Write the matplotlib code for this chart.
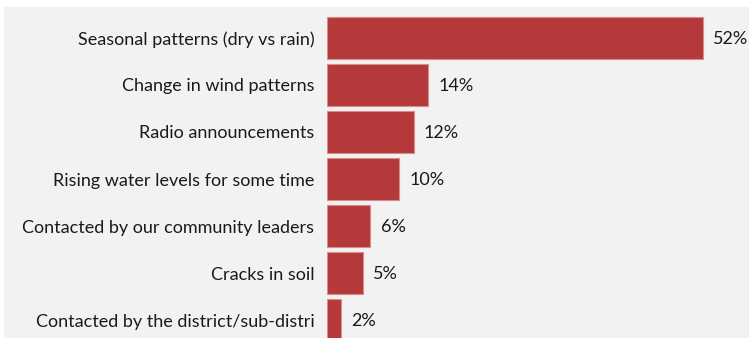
import matplotlib
matplotlib.use("Agg")
import matplotlib.pyplot as plt
from matplotlib.patches import Rectangle

categories = [
    "Seasonal patterns (dry vs rain)",
    "Change in wind patterns",
    "Radio announcements",
    "Rising water levels for some time",
    "Contacted by our community leaders",
    "Cracks in soil",
    "Contacted by the district/sub-distri",
]
values = [52, 14, 12, 10, 6, 5, 2]

W, H = 749, 338
fig = plt.figure(figsize=(W / 100, H / 100), dpi=100, facecolor="white")
fig.patches.append(Rectangle((4 / W, 0), 1, (H - 7) / H, transform=fig.transFigure,
                             facecolor="#f2f2f2", edgecolor="none", zorder=-5))

ax = fig.add_axes([327 / W, 0, (W - 327) / W, (H - 7) / H])
ax.set_facecolor("none")
ax.set_zorder(2)

y = range(len(categories))
ax.barh(y, values, height=0.89, color="#b5393b", edgecolor="#d98c8c", linewidth=0.8)
for i, v in enumerate(values):
    ax.text(v + 1.4, i + 0.03, f"{v}%", va="center", ha="left", fontsize=13,
            family="Lato", color="#1a1a1a")

ax.set_xlim(0, (W - 327) / 7.23)
ax.set_ylim(6 + 18 / 47, -31 / 47)
ax.set_yticks(list(y))
ax.set_yticklabels(categories, fontsize=13, family="Lato", color="#1a1a1a")
ax.tick_params(axis="y", length=0, pad=9)
ax.set_xticks([])
for s in ax.spines.values():
    s.set_visible(False)

fig.savefig("out.png", dpi=100, facecolor="white")
